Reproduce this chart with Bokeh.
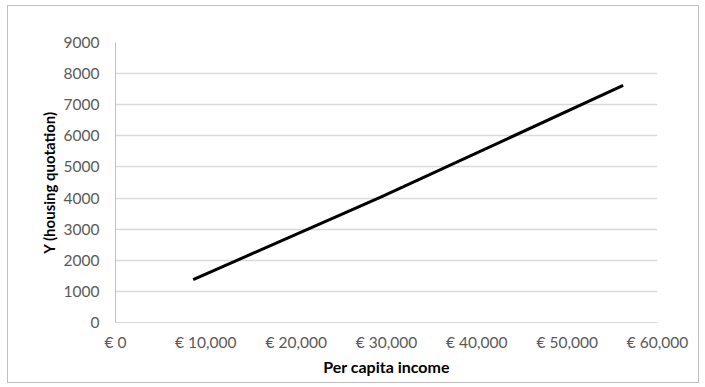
from bokeh.plotting import figure
from bokeh.models import Range1d, FixedTicker
from bokeh.embed import file_html
from bokeh.resources import INLINE

# Data
income = [8600, 29300, 56200]
housing = [1380, 4020, 7620]

x_ticks = [0, 10000, 20000, 30000, 40000, 50000, 60000]
x_tick_labels = ["€ 0", "€ 10,000", "€ 20,000", "€ 30,000", "€ 40,000", "€ 50,000", "€ 60,000"]
y_ticks = [0, 1000, 2000, 3000, 4000, 5000, 6000, 7000, 8000, 9000]
y_tick_labels = [str(v) for v in y_ticks]

FONT = "Lato"

p = figure(frame_width=542, frame_height=280, output_backend="svg", toolbar_location=None,
           x_range=Range1d(0, 60000), y_range=Range1d(0, 9000))
p.min_border_left = 107
p.min_border_top = 36
p.min_border_right = 41
p.min_border_bottom = 60
p.outline_line_color = None
p.background_fill_color = "white"
p.border_fill_color = "white"
p.styles = {"border": "1px solid #bfbfbf", "margin-left": "7px", "margin-top": "5px"}

p.line(income, housing, line_color="black", line_width=3)

p.xaxis.ticker = FixedTicker(ticks=x_ticks)
p.yaxis.ticker = FixedTicker(ticks=y_ticks)
p.xaxis.major_label_overrides = dict(zip(x_ticks, x_tick_labels))
p.yaxis.major_label_overrides = dict(zip(y_ticks, y_tick_labels))

for ax in (p.xaxis, p.yaxis):
    ax.major_tick_line_color = None
    ax.minor_tick_line_color = None
    ax.major_tick_out = 0
    ax.major_tick_in = 0
    ax.minor_tick_out = 0
    ax.major_label_text_font = FONT
    ax.major_label_text_font_size = "15.5px"
    ax.major_label_text_color = "#595959"
    ax.axis_label_text_font = FONT
    ax.axis_label_text_font_style = "bold"
    ax.axis_label_text_color = "black"

p.xaxis.axis_label_text_font_size = "16px"
p.yaxis.axis_label_text_font_size = "15px"
p.xaxis.axis_line_color = "#d9d9d9"
p.yaxis.axis_line_color = "#bfbfbf"
p.xaxis.axis_label = "Per capita income"
p.yaxis.axis_label = "Y (housing quotation)"
p.xaxis.major_label_standoff = 10
p.yaxis.major_label_standoff = 16
p.xaxis.axis_label_standoff = 3
p.yaxis.axis_label_standoff = 3

p.xgrid.grid_line_color = None
p.ygrid.grid_line_color = "#d9d9d9"
p.ygrid.grid_line_width = 1.5

open("out.html", "w").write(file_html(p, INLINE))
